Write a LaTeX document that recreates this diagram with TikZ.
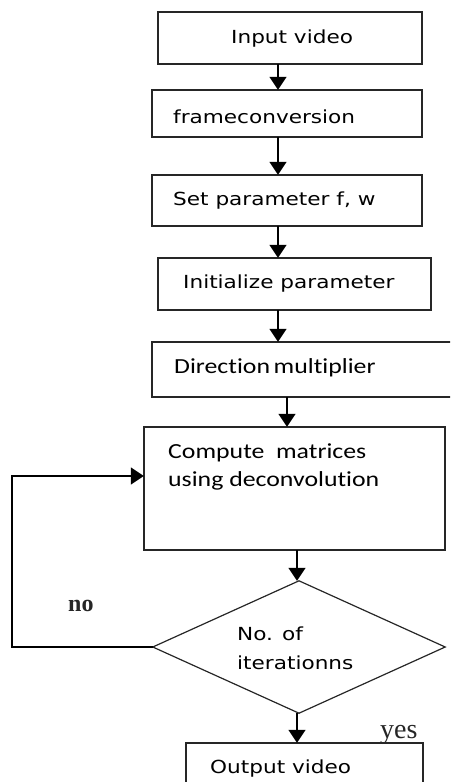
\documentclass[tikz,border=0pt]{standalone}
\usepackage{fontspec}
\usepackage{graphicx}
\setmainfont{DejaVu Sans}
\newfontfamily\calib[Ligatures={NoCommon}]{Carlito}
\newfontfamily\serifa{Liberation Serif}
\usetikzlibrary{arrows.meta}
\newcommand{\wideV}[1]{\scalebox{1.2}[1]{#1}}
\begin{document}
\begin{tikzpicture}[x=1pt,y=-1pt,
  boxst/.style={draw=black!85, line width=1.4pt},
  arr/.style={draw=black, line width=1.6pt, -{Triangle[width=17pt,length=13pt]}},
  vtxt/.style={anchor=base west, inner sep=0pt, font=\fontsize{18}{20}\selectfont},
  ctxt/.style={anchor=base west, inner sep=0pt, font=\calib\fontsize{21.5}{24}\selectfont},
  stxt/.style={anchor=base west, inner sep=0pt, font=\serifa\bfseries\fontsize{24}{26}\selectfont, text=black!85}]
\useasboundingbox (0,0) rectangle (450,782);
\clip (0,0) rectangle (450,782);
% boxes
\draw[boxst] (158,12) rectangle (422,64);
\node[inner sep=0, minimum width=264pt, minimum height=52pt] (b1) at (290,38) {};
\draw[boxst] (152,90) rectangle (422,137);
\node[inner sep=0, minimum width=270pt, minimum height=47pt] (b2) at (287,113.5) {};
\draw[boxst] (152,175) rectangle (422,226);
\node[inner sep=0, minimum width=270pt, minimum height=51pt] (b3) at (287,200.5) {};
\draw[boxst] (158,258) rectangle (431,310);
\node[inner sep=0, minimum width=273pt, minimum height=52pt] (b4) at (294.5,284) {};
\draw[boxst] (152,342) rectangle (470,397);
\node[inner sep=0, minimum width=318pt, minimum height=55pt] (b5) at (311,369.5) {};
\draw[boxst] (144,427) rectangle (445,550);
\node[inner sep=0, minimum width=301pt, minimum height=123pt] (b6) at (294.5,488.5) {};
\node[inner sep=0, minimum width=292pt, minimum height=132pt] (dia) at (299,647) {};
\draw[boxst, line width=1.2pt] (dia.west) -- (dia.north) -- (dia.east) -- (dia.south) -- cycle;
\draw[boxst] (186,743) rectangle (423,800);
\node[inner sep=0, minimum width=237pt, minimum height=57pt] (b7) at (304.5,771.5) {};
% texts
\node[vtxt] (t1) at (231,43) {\wideV{Input video}};
\node[vtxt] (t2) at (173,123) {\wideV{frameconversion}};
\node[vtxt] (t3) at (173,205) {\wideV{Set parameter f, w}};
\node[vtxt] (t4) at (183,288) {\wideV{Initialize parameter}};
\node[ctxt] (t5) at (174,373) {\scalebox{1.2}[1]{Direction\hspace{3pt}multiplier}};
\node[ctxt] (t6) at (168,458) {\scalebox{1.2}[1]{Compute\ \ matrices}};
\node[ctxt] (t7) at (168,486) {\scalebox{1.2}[1]{using deconvolution}};
\node[vtxt] (t8) at (237,640) {\wideV{No. of}};
\node[vtxt] (t9) at (237,669) {\wideV{iterationns}};
\node[vtxt] (t10) at (210,773) {\wideV{Output video}};
\node[stxt] (no) at (68,611) {no};
\node[stxt, font=\serifa\fontsize{28}{30}\selectfont] (yes) at (380,738) {yes};
% arrow columns
\coordinate (c1) at (278,0);
\coordinate (c5) at (287,0);
\coordinate (c6) at (297,0);
\coordinate (fb) at (12,0);
\draw[arr] (b1.south -| c1) -- (b2.north -| c1);
\draw[arr] (b2.south -| c1) -- (b3.north -| c1);
\draw[arr] (b3.south -| c1) -- (b4.north -| c1);
\draw[arr] (b4.south -| c1) -- (b5.north -| c1);
\draw[arr] (b5.south -| c5) -- (b6.north -| c5);
\draw[arr] (b6.south -| c6) -- (dia.north -| c6);
\draw[arr] (dia.south -| c6) -- (b7.north -| c6);
\coordinate (fin) at (0,476);
\draw[arr] (dia.west) -- (dia.west -| fb) -- (fin -| fb) -- (fin -| b6.west);
\end{tikzpicture}
\end{document}
